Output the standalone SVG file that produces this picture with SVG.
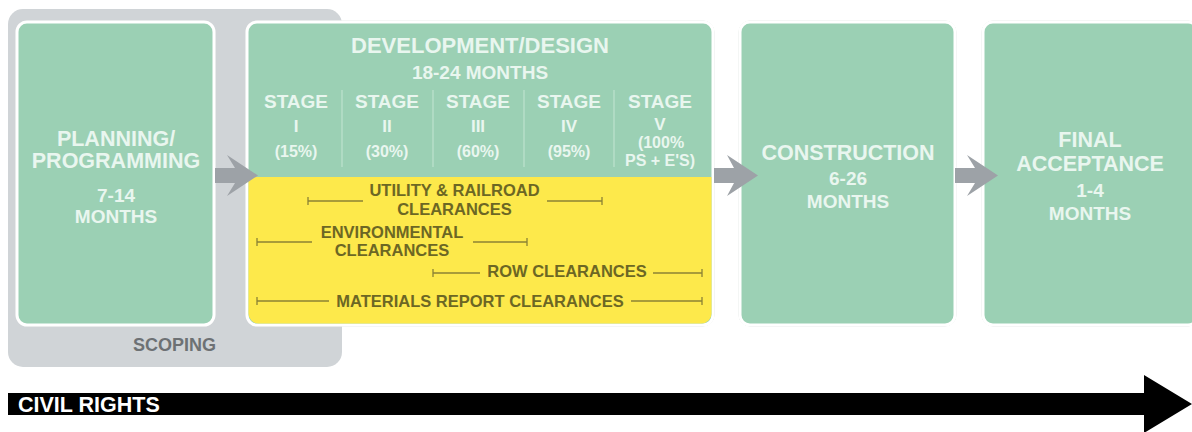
<svg xmlns="http://www.w3.org/2000/svg" width="1192" height="432" viewBox="0 0 1192 432">
<style>
text{font-family:"Liberation Sans",Arial,sans-serif;font-weight:bold;text-anchor:middle}
.box{fill:#9bd0b4;stroke:#ffffff;stroke-width:3}
.outline{fill:none;stroke:#d3d8d5;stroke-width:1}
.gt{fill:#e9f6ef}
.big{font-size:21.5px}
.mid{font-size:19px}
.stg{font-size:19px}
.num{font-size:17px}
.pct{font-size:16px}
.yt{fill:#6c6724;font-size:16.5px}
.yl{stroke:#8c8335;stroke-width:1.3;fill:none}
.sep{stroke:#c4e6d3;stroke-width:1}
.arr{fill:#9da2a7}
</style>
<rect width="1192" height="432" fill="#ffffff"/>
<g id="scoping">
<rect x="8" y="9" width="334" height="358" rx="15" fill="#d0d4d7"/>
<text x="174.5" y="351" style="font-size:18px;fill:#6d7174">SCOPING</text>
</g>
<g id="planning">
<rect x="16" y="21" width="199" height="305" rx="11" class="outline"/>
<rect x="17" y="22" width="197" height="303" rx="10" class="box"/>
<text class="gt big" x="116" y="146">PLANNING/</text>
<text class="gt big" x="116" y="168">PROGRAMMING</text>
<text class="gt mid" x="116" y="202">7-14</text>
<text class="gt mid" x="116" y="223">MONTHS</text>
</g>
<g id="development">
<rect x="246" y="21" width="468" height="305" rx="11" class="outline"/>
<rect x="247" y="22" width="466" height="303" rx="10" class="box"/>
<path d="M248.5,177 H711.5 V313.5 A10,10 0 0 1 701.5,323.5 H258.5 A10,10 0 0 1 248.5,313.5 Z" fill="#fde94b"/>
<text class="gt" x="480" y="53" style="font-size:22px">DEVELOPMENT/DESIGN</text>
<text class="gt mid" x="480" y="79">18-24 MONTHS</text>
<line class="sep" x1="342" y1="90" x2="342" y2="167"/>
<line class="sep" x1="433" y1="90" x2="433" y2="167"/>
<line class="sep" x1="524" y1="90" x2="524" y2="167"/>
<line class="sep" x1="614" y1="90" x2="614" y2="167"/>
<text class="gt stg" x="296" y="108">STAGE</text>
<text class="gt num" x="296" y="132">I</text>
<text class="gt pct" x="296" y="157">(15%)</text>
<text class="gt stg" x="387" y="108">STAGE</text>
<text class="gt num" x="387" y="132">II</text>
<text class="gt pct" x="387" y="157">(30%)</text>
<text class="gt stg" x="478" y="108">STAGE</text>
<text class="gt num" x="478" y="132">III</text>
<text class="gt pct" x="478" y="157">(60%)</text>
<text class="gt stg" x="569" y="108">STAGE</text>
<text class="gt num" x="569" y="132">IV</text>
<text class="gt pct" x="569" y="157">(95%)</text>
<text class="gt stg" x="660" y="108">STAGE</text>
<text class="gt num" x="660" y="130">V</text>
<text class="gt" x="661" y="148" style="font-size:16px">(100%</text>
<text class="gt" x="660" y="165.5" style="font-size:16px">PS + E'S)</text>
<text class="yt" x="454.5" y="196">UTILITY &amp; RAILROAD</text>
<text class="yt" x="454.5" y="215">CLEARANCES</text>
<path class="yl" d="M308,201 H363 M547,201 H602 M308,197 V205 M602,197 V205"/>
<text class="yt" x="392" y="238">ENVIRONMENTAL</text>
<text class="yt" x="392" y="256">CLEARANCES</text>
<path class="yl" d="M257,242 H312 M473,242 H527 M257,238 V246 M527,238 V246"/>
<text class="yt" x="567" y="277">ROW CLEARANCES</text>
<path class="yl" d="M433,273 H480 M653,273 H702 M433,269 V277 M702,269 V277"/>
<text class="yt" x="480" y="307">MATERIALS REPORT CLEARANCES</text>
<path class="yl" d="M257,301 H329 M631,301 H702 M257,297 V305 M702,297 V305"/>
</g>
<g id="construction">
<rect x="739" y="21" width="217" height="305" rx="11" class="outline"/>
<rect x="740" y="22" width="215" height="303" rx="10" class="box"/>
<text class="gt" x="848" y="160" style="font-size:21.5px">CONSTRUCTION</text>
<text class="gt mid" x="848" y="185">6-26</text>
<text class="gt mid" x="848" y="208">MONTHS</text>
</g>
<g id="final">
<rect x="982" y="21" width="217" height="305" rx="11" class="outline"/>
<rect x="983" y="22" width="215" height="303" rx="10" class="box"/>
<text class="gt" x="1090" y="147" style="font-size:21.5px">FINAL</text>
<text class="gt" x="1090" y="171" style="font-size:21.5px">ACCEPTANCE</text>
<text class="gt mid" x="1090" y="197">1-4</text>
<text class="gt mid" x="1090" y="220">MONTHS</text>
</g>
<g id="connectors">
<path class="arr" d="M215,168 H235 L227,155 L258,175.5 L227,196 L235,183 H215 Z"/>
<path class="arr" d="M714,168 H734 L727,155 L758,175.5 L727,196 L734,183 H714 Z"/>
<path class="arr" d="M955,168 H975 L967,155 L998,175.5 L967,196 L975,183 H955 Z"/>
</g>
<g id="civil-rights">
<path d="M8,393 H1144 V375 L1192,404 L1144,433 V415 H8 Z" fill="#000000"/>
<text x="18" y="412" style="font-size:21.5px;fill:#ffffff;text-anchor:start">CIVIL RIGHTS</text>
</g>
</svg>
